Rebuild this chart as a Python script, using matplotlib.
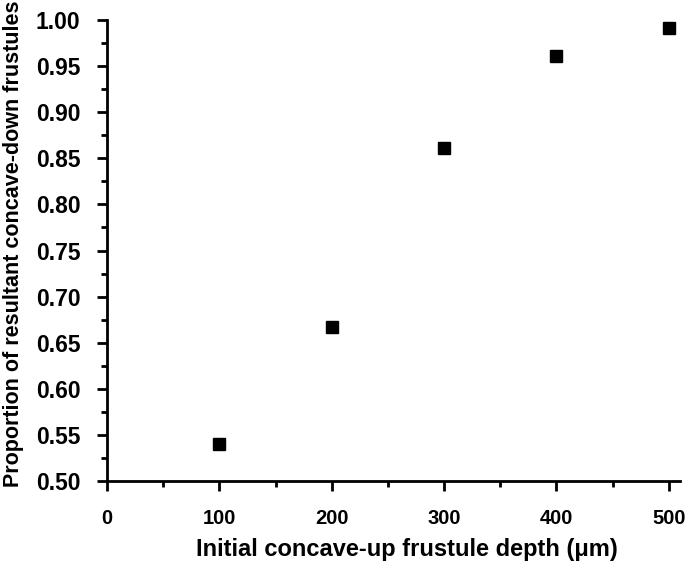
import matplotlib
matplotlib.use("Agg")
import matplotlib.pyplot as plt
from matplotlib.ticker import MultipleLocator, FormatStrFormatter

depth = [100, 200, 300, 400, 500]
proportion = [0.540, 0.667, 0.861, 0.961, 0.991]

plt.rcParams['font.family'] = ['Liberation Sans', 'DejaVu Sans']
plt.rcParams['font.weight'] = 'bold'

fig = plt.figure(figsize=(6.85, 5.67), dpi=100)
ax = fig.add_axes([107/685, 1-481/567, (680-107)/685, (481-20)/567])
ax.plot(depth, proportion, linestyle='none', marker='s', markersize=8, color='black')
ax.set_xlim(0, 510)
ax.set_ylim(0.50, 1.00)
ax.xaxis.set_major_locator(MultipleLocator(100))
ax.xaxis.set_minor_locator(MultipleLocator(50))
ax.yaxis.set_major_locator(MultipleLocator(0.05))
ax.yaxis.set_minor_locator(MultipleLocator(0.025))
ax.yaxis.set_major_formatter(FormatStrFormatter('%.2f'))
for s in ['top', 'right']:
    ax.spines[s].set_visible(False)
for s in ['left', 'bottom']:
    ax.spines[s].set_linewidth(2)
ax.tick_params(which='major', length=7, width=2, direction='out', labelsize=16.5, pad=12)
ax.tick_params(axis='x', which='major', pad=13, labelsize=14.5)
ax.tick_params(which='minor', length=4, width=2, direction='out')
for lab in ax.get_xticklabels() + ax.get_yticklabels():
    lab.set_fontweight('bold')
ax.set_xlabel('Initial concave-up frustule depth (\u03bcm)', fontsize=17, fontweight='bold')
ax.set_ylabel('Proportion of resultant concave-down frustules', fontsize=15.5, fontweight='bold')
ax.xaxis.set_label_coords((407 - 107) / 573, (481 - 538) / 461)
ax.xaxis.label.set_va('top')
ax.yaxis.set_label_coords((24 - 107) / 573, (481 - 244) / 461)
fig.savefig('out.png', dpi=100)
